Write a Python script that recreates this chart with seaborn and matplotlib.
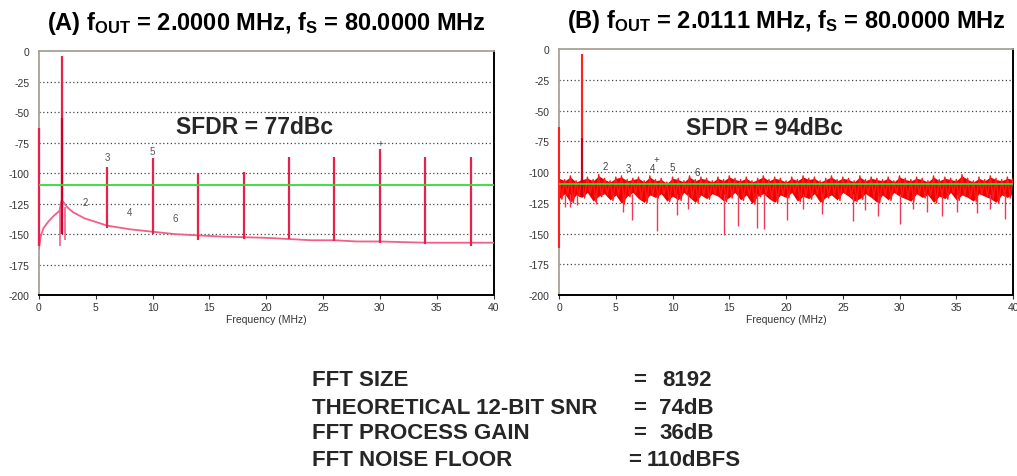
import numpy as np
import seaborn as sns
import matplotlib.pyplot as plt

# (A) coherent 2 MHz tone: spurs and smooth floor
a_spur_freq = [0, 2, 6, 10, 14, 18, 22, 26, 30, 34, 38]
a_spur_top = [-63, -4, -95, -88, -100, -99, -87, -87, -80, -87, -87]
a_spur_bot = [-160, -150, -145, -150, -155, -154, -154, -156, -157, -158, -160]
a_floor_freq = [0, 0.15, 0.4, 0.8, 1.3, 1.8, 2.0, 2.5, 3, 4, 5, 6, 8, 10, 12, 14, 16, 18,
                20, 22, 24, 26, 28, 30, 32, 34, 36, 38, 40]
a_floor_lvl = [-162, -152, -145, -140, -135, -131, -122, -128, -132, -137, -140, -143, -146,
               -148, -150, -151, -152, -152.5, -153, -154, -155, -155, -156, -156, -156.5,
               -157, -157, -157, -157]
a_dip_freq = [1.85, 2.3]
a_dip_lvl = [-160, -155]
a_lab_text = ['2', '3', '4', '5', '6', '+']
a_lab_x = [4.1, 6, 8, 10, 12, 30]
a_lab_y = [-124, -87, -132, -82, -137, -75]

# (B) non-coherent 2.0111 MHz tone: spurs and noise band
b_spur_freq = [0, 2.0111]
b_spur_top = [-63, -4]
b_spur_bot = [-162, -120]
b_noise_hi = [-104, -106, -103, -107, -105, -104, -106, -102, -105, -107, -104, -103, -106,
              -105, -104, -107, -103, -106, -105, -108, -104, -105, -107, -103, -106, -104,
              -105, -107, -104, -106, -103, -105, -106, -104, -107, -105, -103, -106, -104,
              -105, -107, -104, -106, -103, -105, -104, -107, -105, -103, -106, -104, -105,
              -107, -103, -106, -104, -105, -106, -104, -107, -103, -105, -106, -104, -105,
              -107, -103, -106, -104, -105, -106, -102, -105, -107, -104, -106, -103, -105,
              -106, -104, -105]
b_noise_lo = [-122, -118, -125, -119, -121, -117, -124, -120, -118, -123, -119, -126, -120,
              -117, -122, -125, -119, -121, -118, -124, -120, -123, -117, -121, -125, -119,
              -122, -118, -120, -124, -121, -117, -123, -119, -126, -120, -118, -122, -125,
              -119, -121, -117, -124, -120, -122, -118, -125, -121, -119, -123, -117, -120,
              -124, -122, -118, -121, -125, -119, -123, -117, -120, -122, -124, -118, -121,
              -119, -125, -120, -122, -117, -123, -119, -121, -124, -118, -120, -122, -125,
              -119, -121, -118]
b_dip_freq = [0.5, 1.0, 1.6, 3.3, 5.6, 6.4, 8.6, 10.4, 11.4, 14.5, 15.8, 17.4, 18.1, 20.1,
              21.5, 23.2, 25.9, 27.0, 28.1, 30.0, 31.2, 32.4, 33.7, 35.1, 36.8, 38.0, 39.3]
b_dip_lvl = [-128, -128, -127, -126, -132, -139, -148, -135, -130, -151, -144, -145, -146,
             -139, -130, -134, -140, -131, -136, -142, -130, -132, -136, -132, -133, -130, -138]
b_lab_text = ['2', '3', '4', '+', '5', '6']
b_lab_x = [4.05, 6.1, 8.2, 8.6, 10.0, 12.2]
b_lab_y = [-95, -97, -97, -89, -96, -100]

noise_floor = -110
titles = [r'(A) f$_\mathrm{OUT}$ = 2.0000 MHz, f$_\mathrm{S}$ = 80.0000 MHz',
          r'(B) f$_\mathrm{OUT}$ = 2.0111 MHz, f$_\mathrm{S}$ = 80.0000 MHz']
sfdr = ['SFDR = 77dBc', 'SFDR = 94dBc']
sfdr_pos = [(19.0, -62), (18.1, -64)]

sns.set_theme(style='white')
plt.rcParams['font.family'] = ['Liberation Sans', 'DejaVu Sans']
plt.rcParams['axes.unicode_minus'] = False
plt.rcParams['mathtext.fontset'] = 'custom'
plt.rcParams['mathtext.rm'] = 'Liberation Sans:bold'
plt.rcParams['mathtext.it'] = 'Liberation Sans:bold'
plt.rcParams['mathtext.bf'] = 'Liberation Sans:bold'

fig = plt.figure(figsize=(10.17, 4.77), dpi=100)
ax_a = fig.add_axes([0.0383, 0.379, 0.447, 0.512])
ax_b = fig.add_axes([0.5497, 0.379, 0.4464, 0.516])

for ax, title, txt, pos in zip([ax_a, ax_b], titles, sfdr, sfdr_pos):
    ax.set_xlim(0, 40)
    ax.set_ylim(-200, 0)
    ax.set_xticks(range(0, 41, 5))
    ax.set_yticks(range(-200, 1, 25))
    for y in range(-175, 0, 25):
        ax.axhline(y, color='#444444', lw=0.9, ls=(0, (1, 2)), zorder=1)
    ax.tick_params(axis='x', length=3, width=0.8, color='#333333', labelsize=7.5,
                   labelcolor='#333333', pad=2, bottom=True)
    ax.tick_params(axis='y', length=0, labelsize=7.5, labelcolor='#333333', pad=7)
    for s in ['left', 'top']:
        ax.spines[s].set_color('#a8a294')
        ax.spines[s].set_linewidth(1.3)
    for s in ['right', 'bottom']:
        ax.spines[s].set_color('black')
        ax.spines[s].set_linewidth(1.4)
    ax.set_xlabel('Frequency (MHz)', fontsize=7.5, color='#333333', labelpad=1)
    ax.set_title(title, fontsize=17, fontweight='bold', color='black', pad=16)
    ax.text(pos[0], pos[1], txt, fontsize=16.5, fontweight='bold', ha='center', va='center',
            zorder=6)
    ax.axhline(noise_floor, color='#33dd33', lw=1.3, zorder=5)

# panel A
sns.lineplot(x=a_floor_freq, y=a_floor_lvl, ax=ax_a, color='#f06088', lw=1.3,
             estimator=None, zorder=3)
ax_a.vlines(a_spur_freq, a_spur_bot, a_spur_top, color='#e8204c', lw=1.6, zorder=4,
            clip_on=False)
ax_a.vlines([2], [-150], [-55], color='#d0002c', lw=1.6, zorder=4)
ax_a.vlines(a_dip_freq, [-130, -128], a_dip_lvl, color='#f06088', lw=1.2, zorder=3)
for t, x, y in zip(a_lab_text, a_lab_x, a_lab_y):
    ax_a.text(x, y, t, fontsize=7, color='#555555', ha='center', va='center', zorder=6)

# panel B
step = 40 / (len(b_noise_hi) - 1)
zz_x, zz_y = [], []
for i, (hi, lo) in enumerate(zip(b_noise_hi, b_noise_lo)):
    zz_x += [i * step, i * step + step / 2]
    zz_y += [hi, lo]
x_band = [i * step for i in range(len(b_noise_hi))]
ax_b.fill_between(x_band, [h - 1 for h in b_noise_hi], [l + 0.5 for l in b_noise_lo],
                  color='#ee0000', lw=0, zorder=2)
ax_b.vlines(b_dip_freq, -118, b_dip_lvl, color='#f03858', lw=1.0, zorder=3)
sns.lineplot(x=zz_x, y=zz_y, ax=ax_b, color='#ff1a1a', lw=1.0, estimator=None,
             sort=False, zorder=3)
ax_b.vlines(b_spur_freq, b_spur_bot, b_spur_top, color='#ff2020', lw=1.5, zorder=4,
            clip_on=False)
ax_b.vlines([2.0111], [-120], [-72], color='#c80018', lw=1.5, zorder=4)
for t, x, y in zip(b_lab_text, b_lab_x, b_lab_y):
    ax_b.text(x, y, t, fontsize=7, color='#444444', ha='center', va='center', zorder=6)

# summary table under the plots
rows = ['FFT SIZE', 'THEORETICAL 12-BIT SNR', 'FFT PROCESS GAIN', 'FFT NOISE FLOOR']
eq_x = [633, 633, 633, 628]
vals = ['8192', '74dB', '36dB', '110dBFS']
val_x = [662, 659, 659, 647]
row_y = [381, 408, 434, 461]
for r, ex, v, vx, y in zip(rows, eq_x, vals, val_x, row_y):
    fy = 1 - y / 477
    fig.text(312 / 1017, fy, r, fontsize=16, fontweight='bold', va='center')
    fig.text(ex / 1017, fy, '=', fontsize=16, fontweight='bold', va='center')
    fig.text(vx / 1017, fy, v, fontsize=16, fontweight='bold', va='center')

fig.savefig('out.png', dpi=100)
